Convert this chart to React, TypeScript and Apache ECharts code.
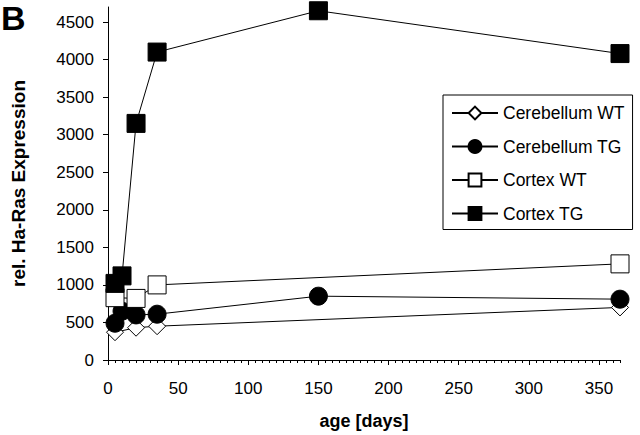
import React, { useEffect, useRef } from "react";
import * as echarts from "echarts";

const cerebellumWTDays = [5, 20, 35, 365];
const cerebellumWTValues = [370, 430, 450, 700];
const cerebellumTGDays = [5, 10, 20, 35, 150, 365];
const cerebellumTGValues = [490, 650, 600, 610, 850, 810];
const cortexWTDays = [5, 20, 35, 365];
const cortexWTValues = [830, 820, 1000, 1280];
const cortexTGDays = [5, 10, 20, 35, 150, 365];
const cortexTGValues = [1020, 1120, 3150, 4100, 4650, 4080];

const xTickLabels = [0, 50, 100, 150, 200, 250, 300, 350];
const yTickLabels = [0, 500, 1000, 1500, 2000, 2500, 3000, 3500, 4000, 4500];
const xMinorTicks: number[] = [];
for (let d = 0; d <= 365; d += 5) xMinorTicks.push(d);

const FONT = "'Liberation Sans', Arial, Helvetica, sans-serif";

const pairs = (xs: number[], ys: number[]) => xs.map((x, i) => [x, ys[i]]);

export default function App() {
  const ref = useRef<HTMLDivElement>(null);
  useEffect(() => {
    if (!ref.current) return;
    const chart = echarts.init(ref.current, null, { renderer: "svg" });
    const whiteItem = { color: "#ffffff", borderColor: "#000000", borderWidth: 1 };
    const blackItem = { color: "#000000", borderColor: "#000000", borderWidth: 1 };
    const line = { color: "#000000", width: 1 };
    chart.setOption({
      animation: false,
      backgroundColor: "#ffffff",
      textStyle: { fontFamily: FONT, color: "#000" },
      grid: { left: 108, right: 20, top: 7, bottom: 73, containLabel: false },
      graphic: [
        {
          type: "text",
          left: 1,
          top: 1,
          style: { text: "B", font: `bold 34px ${FONT}`, fill: "#000" },
        },
      ],
      legend: {
        orient: "vertical",
        left: 443,
        top: 95,
        padding: [9, 8, 7, 8],
        borderColor: "#000",
        borderWidth: 1,
        itemWidth: 46,
        itemHeight: 16,
        itemGap: 15.5,
        textStyle: { fontSize: 17.5, color: "#000", fontFamily: FONT },
        data: ["Cerebellum WT", "Cerebellum TG", "Cortex WT", "Cortex TG"],
      },
      xAxis: [
        {
          type: "value",
          min: 0,
          max: 365,
          interval: 50,
          name: "age [days]",
          nameLocation: "middle",
          nameGap: 52,
          nameTextStyle: { fontSize: 18, fontWeight: "bold", color: "#000", fontFamily: FONT },
          axisLine: { show: true, lineStyle: { color: "#000", width: 1 } },
          axisTick: { show: true, length: 5, customValues: xTickLabels, lineStyle: { color: "#000" } },
          axisLabel: {
            customValues: xTickLabels,
            fontSize: 17,
            color: "#000",
            margin: 20,
            fontFamily: FONT,
            formatter: (v: number) => String(v),
          },
          splitLine: { show: false },
        },
        {
          type: "value",
          min: 0,
          max: 365,
          position: "bottom",
          axisLine: { show: false },
          axisTick: { show: true, length: 3, customValues: xMinorTicks, lineStyle: { color: "#000" } },
          axisLabel: { show: false },
          splitLine: { show: false },
        },
      ],
      yAxis: {
        type: "value",
        min: 0,
        max: 4700,
        interval: 500,
        name: "rel. Ha-Ras Expression",
        nameLocation: "middle",
        nameGap: 80,
        nameTextStyle: { fontSize: 19, fontWeight: "bold", color: "#000", fontFamily: FONT },
        axisLine: { show: true, lineStyle: { color: "#000", width: 1 } },
        axisTick: { show: true, length: 5, customValues: yTickLabels, lineStyle: { color: "#000" } },
        axisLabel: {
          customValues: yTickLabels,
          fontSize: 17,
          color: "#000",
          margin: 14,
          fontFamily: FONT,
          formatter: (v: number) => String(v),
        },
        splitLine: { show: false },
      },
      series: [
        {
          name: "Cerebellum WT",
          type: "line",
          data: pairs(cerebellumWTDays, cerebellumWTValues),
          symbol: "diamond",
          symbolSize: 17,
          lineStyle: line,
          itemStyle: whiteItem,
        },
        {
          name: "Cerebellum TG",
          type: "line",
          data: pairs(cerebellumTGDays, cerebellumTGValues),
          symbol: "circle",
          symbolSize: 18,
          lineStyle: line,
          itemStyle: blackItem,
        },
        {
          name: "Cortex WT",
          type: "line",
          data: pairs(cortexWTDays, cortexWTValues),
          symbol: "rect",
          symbolSize: 18,
          lineStyle: line,
          itemStyle: whiteItem,
        },
        {
          name: "Cortex TG",
          type: "line",
          data: pairs(cortexTGDays, cortexTGValues),
          symbol: "rect",
          symbolSize: 18,
          lineStyle: line,
          itemStyle: blackItem,
        },
      ],
    });
    return () => chart.dispose();
  }, []);
  return (
    <div
      ref={ref}
      style={{ position: "fixed", left: 0, top: 0, width: 640, height: 435, background: "#fff" }}
    />
  );
}
